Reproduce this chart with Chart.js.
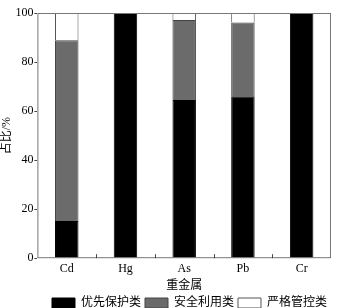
<!DOCTYPE html>
<html>
<head>
<meta charset="utf-8">
<script src="https://cdn.jsdelivr.net/npm/chart.js@4/dist/chart.umd.min.js"></script>
<style>
  html, body { margin: 0; padding: 0; background: #fff; }
  #wrap { width: 341px; height: 308px; }
</style>
</head>
<body>
<div id="wrap"><canvas id="grafico" width="341" height="308"></canvas></div>
<script>
// datos
const metales = ['Cd', 'Hg', 'As', 'Pb', 'Cr'];
const prioridad = [15.2, 100, 64.5, 66.0, 100];
const usoSeguro = [73.7, 0, 32.6, 30.1, 0];
const controlEstricto = [11.1, 0, 2.9, 3.9, 0];
const ticksY = [0, 20, 40, 60, 80, 100];

const fuenteSerif = '"Liberation Serif", "Times New Roman", "Noto Sans CJK SC", serif';

// marco y ticks del eje x hacia adentro
const marco = {
  id: 'marco',
  afterDraw(chart) {
    const { ctx, chartArea: a, scales } = chart;
    ctx.save();
    ctx.strokeStyle = '#777';
    ctx.lineWidth = 1;
    ctx.strokeRect(a.left + 0.5, a.top + 0.5, a.right - a.left - 1, a.bottom - a.top - 1);
    ctx.strokeStyle = '#444';
    for (let i = 1; i < metales.length; i++) {
      const x = Math.round((scales.x.getPixelForValue(i - 1) + scales.x.getPixelForValue(i)) / 2) + 0.5;
      ctx.beginPath();
      ctx.moveTo(x, a.bottom);
      ctx.lineTo(x, a.bottom - 4);
      ctx.stroke();
    }
    ctx.restore();
  }
};

const comun = { barPercentage: 0.4, categoryPercentage: 1, borderWidth: 1 };

new Chart(document.getElementById('grafico').getContext('2d'), {
  type: 'bar',
  data: {
    labels: metales,
    datasets: [
      { label: '优先保护类', data: prioridad, backgroundColor: '#000', borderColor: '#000', ...comun },
      { label: '安全利用类', data: usoSeguro, backgroundColor: '#6b6b6b', borderColor: '#444', ...comun },
      { label: '严格管控类', data: controlEstricto, backgroundColor: '#fff', borderColor: '#555', ...comun }
    ]
  },
  options: {
    responsive: false,
    animation: false,
    layout: { padding: { top: 13, right: 10, left: 0, bottom: -11 } },
    plugins: {
      tooltip: { enabled: false },
      legend: {
        position: 'bottom',
        align: 'end',
        labels: {
          color: '#000',
          boxWidth: 23,
          boxHeight: 10,
          padding: 4,
          font: { family: fuenteSerif, size: 12 }
        }
      }
    },
    scales: {
      x: {
        stacked: true,
        grid: { display: false, drawTicks: false },
        border: { display: false },
        ticks: { color: '#000', padding: 3, font: { family: fuenteSerif, size: 12 } },
        title: { display: true, text: '重金属', color: '#000', padding: { top: 0, bottom: 0 }, font: { family: fuenteSerif, size: 12 } }
      },
      y: {
        stacked: true,
        min: 0,
        max: 100,
        afterBuildTicks(scale) { scale.ticks = ticksY.map(v => ({ value: v })); },
        grid: { drawOnChartArea: false, drawTicks: true, tickLength: 3, color: '#444' },
        border: { display: false },
        ticks: { color: '#000', padding: 1, font: { family: fuenteSerif, size: 12 } },
        title: { display: true, text: '占比/%', color: '#000', padding: { top: 0, bottom: 0 }, font: { family: fuenteSerif, size: 12 } }
      }
    }
  },
  plugins: [marco]
});
</script>
</body>
</html>
